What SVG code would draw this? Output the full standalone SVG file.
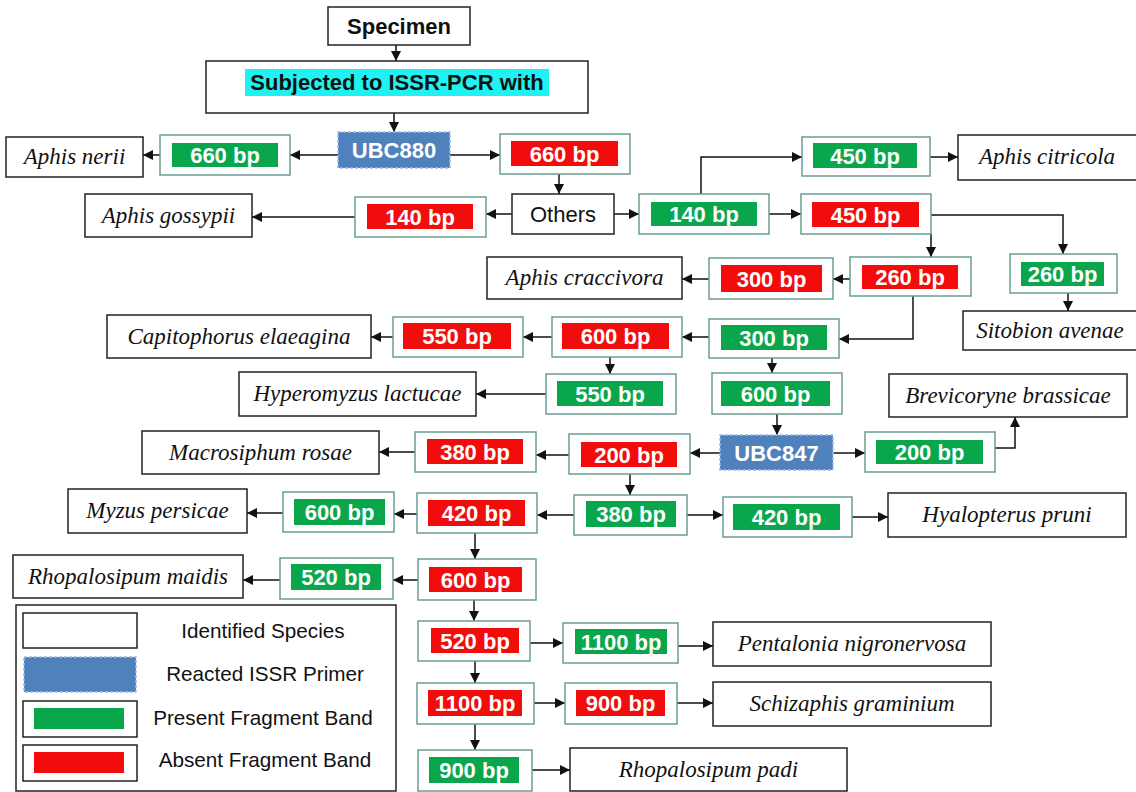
<svg xmlns="http://www.w3.org/2000/svg" width="1136" height="792" viewBox="0 0 1136 792">
<style>
.sp{fill:#fff;stroke:#222;stroke-width:1.5}
.spt{font-family:"Liberation Serif",serif;font-style:italic;font-size:23px;fill:#111;text-anchor:middle}
.bo{fill:#fff;stroke:#6a9e92;stroke-width:1.5}
.g{fill:#0aa64c}
.r{fill:#f20c0c}
.bt{font-family:"Liberation Sans",Arial,sans-serif;font-weight:bold;font-size:22px;fill:#fff;text-anchor:middle}
.pr{fill:#4f81bd;stroke:#9dbbe3;stroke-width:1.5;stroke-dasharray:3 2}
.hd{font-family:"Liberation Sans",Arial,sans-serif;font-weight:bold;font-size:22px;fill:#111;text-anchor:middle}
.rg{font-family:"Liberation Sans",Arial,sans-serif;font-size:22px;fill:#111;text-anchor:middle}
.lg{font-family:"Liberation Sans",Arial,sans-serif;font-size:20.7px;fill:#111;text-anchor:middle}
.lb{fill:#fff;stroke:#222;stroke-width:1.5}
#connectors path{fill:none;stroke:#111;stroke-width:1.5;marker-end:url(#ah)}
</style>
<defs>
<marker id="ah" viewBox="0 0 10 10" refX="10" refY="5" markerWidth="11" markerHeight="10" markerUnits="userSpaceOnUse" orient="auto">
<path d="M0,0 L10,5 L0,10 z" fill="#111"/>
</marker>
</defs>
<rect width="1136" height="792" fill="#fff"/>

<g id="connectors">
<path d="M396,45 V61"/>
<path d="M394,113 V132"/>
<path d="M338,155 H290"/>
<path d="M160,155 H143"/>
<path d="M450,155 H500"/>
<path d="M559,174 V194"/>
<path d="M512,214 H486"/>
<path d="M355,217 H252"/>
<path d="M614,214 H639"/>
<path d="M701,194 V157 H802"/>
<path d="M930,157 H958"/>
<path d="M769,214 H801"/>
<path d="M931,215 H1063 V254"/>
<path d="M931,234 V257"/>
<path d="M1068,293 V311"/>
<path d="M850,279 H833"/>
<path d="M709,279 H682"/>
<path d="M913,296 V339 H839"/>
<path d="M709,337 H682"/>
<path d="M552,337 H523"/>
<path d="M393,337 H371"/>
<path d="M610,357 V374"/>
<path d="M546,394 H476"/>
<path d="M772,358 V373"/>
<path d="M777,414 V435"/>
<path d="M833,453 H865"/>
<path d="M995,448 H1015 V417"/>
<path d="M720,453 H690"/>
<path d="M569,455 H536"/>
<path d="M415,452 H379"/>
<path d="M630,474 V495"/>
<path d="M574,515 H537"/>
<path d="M417,514 H394"/>
<path d="M283,513 H247"/>
<path d="M687,515 H723"/>
<path d="M852,517 H888"/>
<path d="M475,533 V559"/>
<path d="M418,580 H393"/>
<path d="M280,580 H243"/>
<path d="M474,600 V621"/>
<path d="M530,643 H563"/>
<path d="M678,646 H713"/>
<path d="M475,661 V683"/>
<path d="M534,703 H565"/>
<path d="M677,703 H713"/>
<path d="M475,724 V750"/>
<path d="M532,770 H570"/>
</g>

<g id="specimen"><rect class="sp" x="328" y="7" width="142" height="38"/><text class="hd" x="399" y="34">Specimen</text></g>
<g id="subjected"><rect class="sp" x="206" y="61" width="382" height="52"/><rect x="245" y="69" width="304" height="27" fill="#1ff2f2"/><text class="hd" x="397" y="90">Subjected to ISSR-PCR with</text></g>
<g id="ubc880"><rect class="pr" x="338" y="132" width="112" height="36"/><text class="bt" x="394" y="158">UBC880</text></g>

<g id="g660"><rect class="bo" x="160" y="135" width="130" height="40"/><rect class="g" x="172" y="143" width="106" height="24"/><text class="bt" x="225" y="163">660 bp</text></g>
<g id="aphis-nerii"><rect class="sp" x="6" y="137" width="137" height="40"/><text class="spt" x="74.5" y="164">Aphis nerii</text></g>
<g id="r660"><rect class="bo" x="500" y="134" width="130" height="40"/><rect class="r" x="511" y="141" width="107" height="25"/><text class="bt" x="564.5" y="161.5">660 bp</text></g>
<g id="others"><rect class="sp" x="512" y="194" width="102" height="40"/><text class="rg" x="563" y="222">Others</text></g>
<g id="r140"><rect class="bo" x="355" y="197" width="131" height="40"/><rect class="r" x="367" y="204" width="106" height="25"/><text class="bt" x="420" y="224.5">140 bp</text></g>
<g id="aphis-gossypii"><rect class="sp" x="85" y="194" width="167" height="43"/><text class="spt" x="168.5" y="222.5">Aphis gossypii</text></g>
<g id="g140"><rect class="bo" x="639" y="194" width="130" height="40"/><rect class="g" x="651" y="202" width="106" height="24"/><text class="bt" x="704" y="222">140 bp</text></g>
<g id="g450"><rect class="bo" x="802" y="137" width="128" height="39"/><rect class="g" x="813" y="143" width="104" height="25"/><text class="bt" x="865" y="163.5">450 bp</text></g>
<g id="aphis-citricola"><rect class="sp" x="958" y="135" width="190" height="45"/><text class="spt" x="1047" y="164">Aphis citricola</text></g>
<g id="r450"><rect class="bo" x="801" y="194" width="130" height="40"/><rect class="r" x="812" y="202" width="107" height="25"/><text class="bt" x="865.5" y="222.5">450 bp</text></g>
<g id="g260"><rect class="bo" x="1010" y="254" width="107" height="39"/><rect class="g" x="1021" y="262" width="83" height="24"/><text class="bt" x="1062.5" y="282">260 bp</text></g>
<g id="sitobion-avenae"><rect class="sp" x="963" y="311" width="180" height="39"/><text class="spt" x="1050" y="337.5">Sitobion avenae</text></g>
<g id="r260"><rect class="bo" x="850" y="257" width="121" height="39"/><rect class="r" x="862" y="265" width="96" height="24"/><text class="bt" x="910" y="285">260 bp</text></g>
<g id="r300"><rect class="bo" x="709" y="258" width="124" height="41"/><rect class="r" x="721" y="265" width="101" height="27"/><text class="bt" x="771.5" y="286.5">300 bp</text></g>
<g id="aphis-craccivora"><rect class="sp" x="487" y="257" width="195" height="42"/><text class="spt" x="584.5" y="285">Aphis craccivora</text></g>
<g id="g300"><rect class="bo" x="709" y="319" width="130" height="39"/><rect class="g" x="721" y="325" width="106" height="25"/><text class="bt" x="774" y="345.5">300 bp</text></g>
<g id="r600a"><rect class="bo" x="552" y="317" width="130" height="40"/><rect class="r" x="562" y="323" width="107" height="26"/><text class="bt" x="615.5" y="344">600 bp</text></g>
<g id="r550"><rect class="bo" x="393" y="317" width="130" height="40"/><rect class="r" x="403" y="323" width="108" height="26"/><text class="bt" x="457" y="344">550 bp</text></g>
<g id="capitophorus-elaeagina"><rect class="sp" x="107" y="315" width="264" height="43"/><text class="spt" x="239" y="343.5">Capitophorus elaeagina</text></g>
<g id="g550"><rect class="bo" x="546" y="374" width="130" height="40"/><rect class="g" x="557" y="381" width="106" height="25"/><text class="bt" x="610" y="401.5">550 bp</text></g>
<g id="hyperomyzus-lactucae"><rect class="sp" x="239" y="372" width="237" height="44"/><text class="spt" x="357.5" y="401">Hyperomyzus lactucae</text></g>
<g id="g600a"><rect class="bo" x="712" y="373" width="130" height="41"/><rect class="g" x="721" y="381" width="109" height="25"/><text class="bt" x="775.5" y="401.5">600 bp</text></g>
<g id="ubc847"><rect class="pr" x="720" y="435" width="113" height="35"/><text class="bt" x="776.5" y="460.5">UBC847</text></g>
<g id="g200"><rect class="bo" x="865" y="432" width="130" height="40"/><rect class="g" x="876" y="440" width="107" height="24"/><text class="bt" x="929.5" y="460">200 bp</text></g>
<g id="brevicoryne-brassicae"><rect class="sp" x="889" y="374" width="238" height="43"/><text class="spt" x="1008" y="402.5">Brevicoryne brassicae</text></g>
<g id="r200"><rect class="bo" x="569" y="434" width="121" height="40"/><rect class="r" x="581" y="442" width="96" height="25"/><text class="bt" x="629" y="462.5">200 bp</text></g>
<g id="r380"><rect class="bo" x="415" y="432" width="121" height="40"/><rect class="r" x="427" y="439" width="96" height="25"/><text class="bt" x="475" y="459.5">380 bp</text></g>
<g id="macrosiphum-rosae"><rect class="sp" x="142" y="431" width="237" height="43"/><text class="spt" x="260.5" y="459.5">Macrosiphum rosae</text></g>
<g id="g380"><rect class="bo" x="574" y="495" width="113" height="40"/><rect class="g" x="586" y="501" width="90" height="26"/><text class="bt" x="631" y="522">380 bp</text></g>
<g id="r420"><rect class="bo" x="417" y="493" width="120" height="40"/><rect class="r" x="428" y="500" width="97" height="26"/><text class="bt" x="476.5" y="521">420 bp</text></g>
<g id="g600b"><rect class="bo" x="283" y="492" width="111" height="40"/><rect class="g" x="294" y="499" width="91" height="26"/><text class="bt" x="339.5" y="520">600 bp</text></g>
<g id="myzus-persicae"><rect class="sp" x="68" y="489" width="179" height="44"/><text class="spt" x="157.5" y="518">Myzus persicae</text></g>
<g id="g420"><rect class="bo" x="723" y="497" width="129" height="40"/><rect class="g" x="733" y="504" width="107" height="26"/><text class="bt" x="786.5" y="525">420 bp</text></g>
<g id="hyalopterus-pruni"><rect class="sp" x="888" y="493" width="238" height="44"/><text class="spt" x="1007" y="522">Hyalopterus pruni</text></g>
<g id="r600b"><rect class="bo" x="418" y="559" width="118" height="41"/><rect class="r" x="429" y="567" width="93" height="25"/><text class="bt" x="475.5" y="587.5">600 bp</text></g>
<g id="g520"><rect class="bo" x="280" y="558" width="113" height="41"/><rect class="g" x="291" y="564" width="90" height="26"/><text class="bt" x="336" y="585">520 bp</text></g>
<g id="rhopalosipum-maidis"><rect class="sp" x="13" y="555" width="230" height="43"/><text class="spt" x="128" y="583.5">Rhopalosipum maidis</text></g>
<g id="r520"><rect class="bo" x="418" y="621" width="112" height="40"/><rect class="r" x="431" y="628" width="88" height="25"/><text class="bt" x="475" y="648.5">520 bp</text></g>
<g id="g1100"><rect class="bo" x="563" y="623" width="115" height="40"/><rect class="g" x="575" y="629" width="92" height="25"/><text class="bt" x="621" y="649.5">1100 bp</text></g>
<g id="pentalonia-nigronervosa"><rect class="sp" x="713" y="622" width="278" height="44"/><text class="spt" x="852" y="651">Pentalonia nigronervosa</text></g>
<g id="r1100"><rect class="bo" x="417" y="683" width="117" height="41"/><rect class="r" x="428" y="690" width="94" height="26"/><text class="bt" x="475" y="711">1100 bp</text></g>
<g id="r900"><rect class="bo" x="565" y="683" width="112" height="41"/><rect class="r" x="576" y="690" width="89" height="26"/><text class="bt" x="620.5" y="711">900 bp</text></g>
<g id="schizaphis-graminium"><rect class="sp" x="713" y="682" width="278" height="44"/><text class="spt" x="852" y="711">Schizaphis graminium</text></g>
<g id="g900"><rect class="bo" x="418" y="750" width="114" height="41"/><rect class="g" x="429" y="757" width="90" height="26"/><text class="bt" x="474" y="778">900 bp</text></g>
<g id="rhopalosipum-padi"><rect class="sp" x="570" y="748" width="277" height="43"/><text class="spt" x="708.5" y="776.5">Rhopalosipum padi</text></g>

<g id="legend">
<rect class="lb" x="16" y="605" width="380" height="186"/>
<rect class="lb" x="23" y="613" width="114" height="35"/>
<text class="lg" x="263" y="638">Identified Species</text>
<rect class="pr" x="24" y="657" width="112" height="35"/>
<text class="lg" x="265" y="681">Reacted ISSR Primer</text>
<rect class="lb" x="23" y="701" width="114" height="36"/>
<rect class="g" x="34" y="708" width="90" height="21"/>
<text class="lg" x="263" y="725">Present Fragment Band</text>
<rect class="lb" x="23" y="745" width="114" height="36"/>
<rect class="r" x="34" y="752" width="90" height="21"/>
<text class="lg" x="265" y="767">Absent Fragment Band</text>
</g>
</svg>
